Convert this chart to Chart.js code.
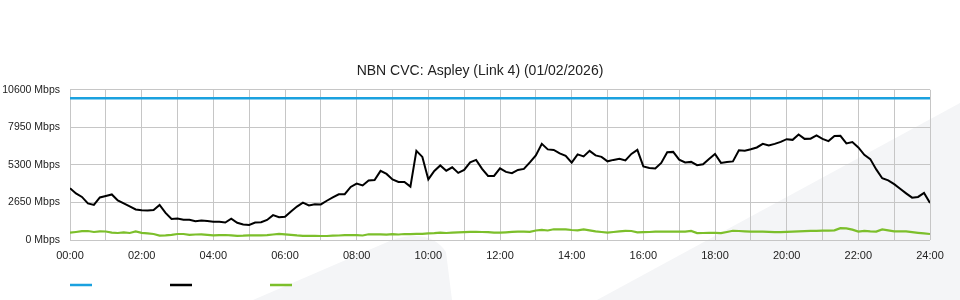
<!DOCTYPE html>
<html>
<head>
<meta charset="utf-8">
<script src="https://cdn.jsdelivr.net/npm/chart.js@4.4.1/dist/chart.umd.min.js"></script>
<style>
  html, body { margin: 0; padding: 0; background: #fff; }
</style>
</head>
<body>
<canvas id="chart" width="960" height="300"></canvas>
<script>
const chartTitle = 'NBN CVC: Aspley (Link 4) (01/02/2026)';
const yTicks = [0, 2650, 5300, 7950, 10600];
const xTickHours = [0, 2, 4, 6, 8, 10, 12, 14, 16, 18, 20, 22, 24];
const sampleMinutes = 10;

// link capacity (flat)
const capacityHours = [0, 24];
const capacityMbps = [10000, 10000];

// black series, one value per 10 min from 00:00 to 24:00
const downMbps = [
  3653, 3286, 3039, 2579, 2473, 3003, 3109, 3215, 2791, 2579, 2367, 2155,
  2099, 2085, 2120, 2473, 1908, 1484, 1519, 1435, 1435, 1321, 1378, 1343,
  1293, 1293, 1237, 1505, 1215, 1095, 1060, 1230, 1258, 1413, 1753, 1611,
  1647, 2014, 2360, 2636, 2438, 2523, 2509, 2770, 3003, 3229, 3229, 3745,
  3979, 3851, 4205, 4233, 4876, 4664, 4275, 4099, 4099, 3767, 6289, 5865,
  4275, 4876, 5265, 4890, 5130, 4735, 4947, 5477, 5653, 5017, 4523, 4523,
  5053, 4805, 4713, 4947, 5017, 5477, 5971, 6784, 6395, 6360, 6113, 5936,
  5463, 6042, 5901, 6289, 5971, 5865, 5554, 5653, 5738, 5618, 6077, 6360,
  5194, 5088, 5053, 5441, 6190, 6219, 5675, 5477, 5512, 5279, 5342, 5724,
  6077, 5441, 5512, 5547, 6339, 6303, 6402, 6530, 6784, 6664, 6784, 6925,
  7116, 7067, 7441, 7137, 7151, 7385, 7137, 6982, 7335, 7349, 6819, 6911,
  6530, 6007, 5710, 4982, 4360, 4205, 3943, 3611, 3293, 2989, 3039, 3321,
  2615
];

// green series, same sampling
const upMbps = [
  516, 565, 622, 636, 565, 615, 600, 523, 495, 544, 495, 600,
  509, 473, 424, 311, 332, 367, 424, 424, 367, 389, 396, 367,
  332, 339, 353, 325, 297, 304, 332, 332, 332, 339, 389, 438,
  403, 367, 325, 297, 297, 290, 283, 283, 304, 318, 346, 353,
  339, 318, 403, 396, 403, 382, 410, 389, 424, 410, 438, 438,
  473, 480, 516, 495, 516, 537, 551, 572, 579, 565, 551, 523,
  516, 544, 579, 587, 594, 579, 671, 721, 671, 756, 749, 756,
  707, 685, 749, 685, 608, 565, 523, 565, 615, 650, 636, 544,
  551, 565, 587, 587, 587, 587, 587, 587, 636, 488, 495, 509,
  509, 480, 565, 650, 636, 608, 587, 587, 587, 579, 558, 551,
  572, 594, 608, 629, 643, 650, 657, 657, 678, 834, 820, 728,
  594, 643, 608, 594, 749, 685, 608, 615, 608, 558, 509, 466,
  424
];

const toPoints = arr => arr.map((v, i) => ({ x: i * sampleMinutes / 60, y: v }));
const pad2 = n => (n < 10 ? '0' : '') + n;

// faint logo shapes behind the chart
const watermarkPlugin = {
    id: 'watermark',
    beforeDraw(chart) {
        const ctx = chart.ctx;
        ctx.save();
        ctx.fillStyle = '#fff';
        ctx.fillRect(0, 0, chart.width, chart.height);
        ctx.fillStyle = '#f4f5f7';
        ctx.beginPath();
        ctx.moveTo(253, 300);
        ctx.lineTo(392, 240);
        ctx.quadraticCurveTo(430, 228, 446, 252);
        ctx.lineTo(452, 300);
        ctx.closePath();
        ctx.fill();
        ctx.beginPath();
        ctx.moveTo(597, 300);
        ctx.lineTo(960, 103);
        ctx.lineTo(960, 300);
        ctx.closePath();
        ctx.fill();
        ctx.restore();
    }
};

// legend: short coloured strokes only, no text
const strokeLegendPlugin = {
    id: 'strokeLegend',
    afterDraw(chart) {
        const ctx = chart.ctx;
        const left = chart.chartArea.left;
        ctx.save();
        ctx.lineWidth = 2.5;
        chart.data.datasets.forEach((ds, i) => {
            ctx.strokeStyle = ds.borderColor;
            ctx.beginPath();
            ctx.moveTo(left + i * 100, 285);
            ctx.lineTo(left + i * 100 + 22, 285);
            ctx.stroke();
        });
        ctx.restore();
    }
};

const ctx = document.getElementById('chart').getContext('2d');
new Chart(ctx, {
    type: 'line',
    data: {
        datasets: [{
            label: 'Capacity',
            data: capacityHours.map((h, i) => ({ x: h, y: capacityMbps[i] })),
            borderColor: '#1aa1df',
            borderWidth: 2.5,
            pointRadius: 0
        },
        {
            label: 'Download',
            data: toPoints(downMbps),
            borderColor: '#000000',
            borderWidth: 2,
            pointRadius: 0
        },
        {
            label: 'Upload',
            data: toPoints(upMbps),
            borderColor: '#7cbf2b',
            borderWidth: 2.2,
            pointRadius: 0
        }]
    },
    options: {
        responsive: false,
        animation: false,
        devicePixelRatio: 1,
        layout: { padding: { left: 0, right: 0, top: 0, bottom: 38 } },
        plugins: {
            legend: { display: false },
            tooltip: { enabled: false },
            title: {
                display: true,
                text: chartTitle,
                color: '#222',
                font: { family: '"Liberation Sans", Arial, sans-serif', size: 14, weight: 'normal' },
                padding: { top: 63, bottom: 10 }
            }
        },
        scales: {
            x: {
                type: 'linear',
                min: 0,
                max: 24,
                afterBuildTicks: scale => {
                    scale.ticks = [];
                    for (let h = 0; h <= 24; h++) scale.ticks.push({ value: h });
                },
                afterFit: scale => { scale.height = 22; },
                grid: { color: '#c6c6c6', lineWidth: 1, drawTicks: false },
                border: { display: false },
                ticks: {
                    autoSkip: false,
                    maxRotation: 0,
                    padding: 9,
                    color: '#222',
                    font: { family: '"Liberation Sans", Arial, sans-serif', size: 11 },
                    callback: v => xTickHours.includes(v) ? pad2(v) + ':00' : ''
                }
            },
            y: {
                min: yTicks[0],
                max: yTicks[yTicks.length - 1],
                afterBuildTicks: scale => { scale.ticks = yTicks.map(v => ({ value: v })); },
                afterFit: scale => { scale.width = 70; },
                grid: { color: '#c6c6c6', lineWidth: 1, drawTicks: false },
                border: { display: false },
                ticks: {
                    padding: 10,
                    color: '#222',
                    font: { family: '"Liberation Sans", Arial, sans-serif', size: 10.5 },
                    callback: v => v + ' Mbps'
                }
            },
            // empty right-hand axis, only reserves the 30px gutter
            gutter: {
                position: 'right',
                display: true,
                afterFit: scale => { scale.width = 30; },
                grid: { display: false, drawTicks: false },
                border: { display: false },
                ticks: { display: false }
            }
        }
    },
    plugins: [watermarkPlugin, strokeLegendPlugin]
});
</script>
</body>
</html>
